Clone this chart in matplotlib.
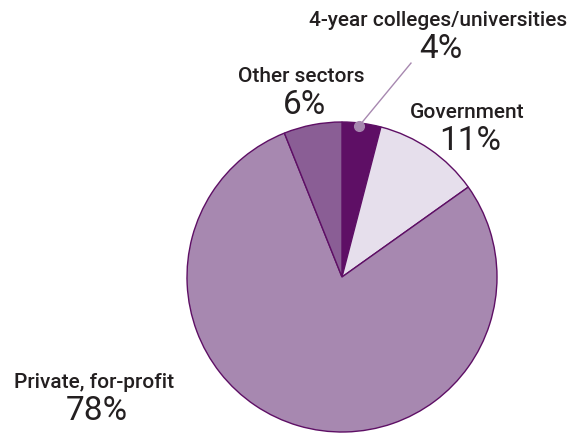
import matplotlib.pyplot as plt
import matplotlib as mpl

mpl.rcParams['font.family'] = ['Roboto', 'DejaVu Sans']

#=================================== data ===================================
sectors = ["4-year colleges/universities", "Government",
           "Private, for-profit", "Other sectors"]
shares = [4, 11, 78, 6]
colors = ["#5e0f65", "#e6dfec", "#a788b0", "#8a5e95"]
# label anchors in pie units (radius = 1): centre x, baseline of the name
label_pos = [(0.62, 1.626), (0.81, 1.032), (-1.60, -0.71), (-0.265, 1.265)]

#=================================== figure =================================
W, H = 573, 435
cx, cy, r = 342, 278, 155
fig = plt.figure(figsize=(W/100, H/100), dpi=100)
ax = fig.add_axes([(cx - r)/W, (H - cy - r)/H, 2*r/W, 2*r/H])

ax.pie(shares, colors=colors, startangle=90, counterclock=False,
       wedgeprops=dict(edgecolor="#5e0f65", linewidth=1.0), radius=1)
ax.set_xlim(-1, 1); ax.set_ylim(-1, 1)
ax.set_aspect('equal')
ax.axis('off')

txt = "#231f20"
for name, val, (x, y) in zip(sectors, shares, label_pos):
    ax.text(x, y, name, ha='center', va='baseline', fontsize=15,
            fontweight='medium', color=txt, clip_on=False)
    ax.text(x + 0.02, y - 0.207, f"{val}%", ha='center', va='baseline',
            fontsize=24, color=txt, clip_on=False)

# leader line from the small slice up to its label
ax.plot([0.11, 0.445], [0.974, 1.38], color="#a788b0", lw=1.0, clip_on=False)
ax.plot([0.11], [0.974], 'o', ms=7, color="#a788b0", clip_on=False)

fig.savefig("out.png", dpi=100)
